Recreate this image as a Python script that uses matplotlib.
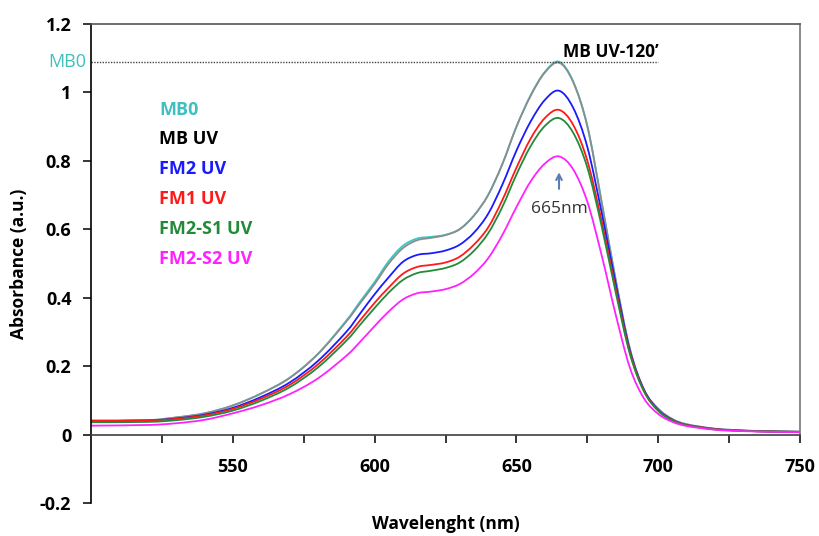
import matplotlib
matplotlib.use("Agg")
import matplotlib.pyplot as plt
from matplotlib.path import Path
from matplotlib.patches import PathPatch
from matplotlib.ticker import FixedLocator

plt.rcParams['font.family'] = ['Open Sans', 'DejaVu Sans']

# wavelength grid (nm)
wl = [500, 520, 530, 540, 550, 560, 570, 580, 590, 595, 600, 605, 610, 615, 620,
      625, 630, 635, 640, 645, 650, 655, 660, 665, 670, 675, 680, 685, 690, 695,
      700, 705, 710, 720, 730, 740, 750]

# absorbance
mb0 = [0.040, 0.042, 0.050, 0.062, 0.085, 0.120, 0.166, 0.236, 0.333, 0.390, 0.446, 0.507, 0.552, 0.573, 0.578,
       0.584, 0.601, 0.640, 0.700, 0.790, 0.900, 0.992, 1.060, 1.090, 1.032, 0.902, 0.682, 0.452, 0.250, 0.130,
       0.075, 0.045, 0.030, 0.017, 0.012, 0.009, 0.008]
mb_uv = [0.040, 0.042, 0.050, 0.062, 0.085, 0.120, 0.165, 0.235, 0.330, 0.385, 0.440, 0.500, 0.545, 0.568, 0.575,
         0.583, 0.600, 0.640, 0.700, 0.790, 0.900, 0.990, 1.058, 1.087, 1.030, 0.900, 0.680, 0.450, 0.250, 0.130,
         0.075, 0.045, 0.030, 0.017, 0.012, 0.009, 0.008]
fm2_uv = [0.040, 0.041, 0.047, 0.058, 0.078, 0.110, 0.152, 0.215, 0.300, 0.355, 0.410, 0.460, 0.505, 0.525, 0.530,
          0.538, 0.555, 0.590, 0.645, 0.730, 0.830, 0.915, 0.978, 1.005, 0.955, 0.840, 0.650, 0.440, 0.245, 0.130,
          0.072, 0.043, 0.028, 0.016, 0.011, 0.009, 0.008]
fm1_uv = [0.041, 0.041, 0.046, 0.056, 0.075, 0.105, 0.145, 0.205, 0.285, 0.335, 0.385, 0.430, 0.470, 0.490, 0.496,
          0.503, 0.520, 0.555, 0.605, 0.685, 0.780, 0.865, 0.925, 0.949, 0.905, 0.800, 0.625, 0.425, 0.240, 0.127,
          0.070, 0.042, 0.028, 0.016, 0.011, 0.009, 0.008]
fm2_s1 = [0.036, 0.037, 0.042, 0.052, 0.070, 0.099, 0.138, 0.196, 0.274, 0.322, 0.370, 0.415, 0.452, 0.472, 0.479,
          0.487, 0.503, 0.537, 0.588, 0.665, 0.760, 0.843, 0.902, 0.925, 0.882, 0.780, 0.610, 0.415, 0.235, 0.125,
          0.069, 0.041, 0.027, 0.015, 0.011, 0.009, 0.008]
fm2_s2 = [0.026, 0.028, 0.033, 0.043, 0.062, 0.086, 0.118, 0.164, 0.230, 0.272, 0.317, 0.360, 0.395, 0.413, 0.418,
          0.425, 0.440, 0.470, 0.515, 0.583, 0.665, 0.740, 0.792, 0.813, 0.775, 0.680, 0.525, 0.350, 0.195, 0.105,
          0.060, 0.037, 0.025, 0.014, 0.010, 0.008, 0.007]

names = ['MB0', 'MB UV', 'FM2 UV', 'FM1 UV', 'FM2-S1 UV', 'FM2-S2 UV']
line_colors = ['#33CCCC', '#8C8C8C', '#1A1AFF', '#FF1A1A', '#228B3A', '#FF22FF']
text_colors = ['#40BFBF', '#000000', '#1A1AFF', '#FF1A1A', '#228B3A', '#FF22FF']
series = [mb0, mb_uv, fm2_uv, fm1_uv, fm2_s1, fm2_s2]


def smooth_path(xs, ys):
    # excel style smoothed line: catmull-rom segments as cubic beziers
    pts = list(zip(xs, ys))
    verts = [pts[0]]
    codes = [Path.MOVETO]
    n = len(pts)
    for i in range(n - 1):
        p0 = pts[max(i - 1, 0)]
        p1 = pts[i]
        p2 = pts[i + 1]
        p3 = pts[min(i + 2, n - 1)]
        c1 = (p1[0] + (p2[0] - p0[0]) / 6, p1[1] + (p2[1] - p0[1]) / 6)
        c2 = (p2[0] - (p3[0] - p1[0]) / 6, p2[1] - (p3[1] - p1[1]) / 6)
        verts += [c1, c2, p2]
        codes += [Path.CURVE4] * 3
    return Path(verts, codes)


fig = plt.figure(figsize=(8.19, 5.36), dpi=100)
ax = fig.add_axes([0.111, 0.0616, 0.866, 0.8936])

for y, c in zip(series, line_colors):
    ax.add_patch(PathPatch(smooth_path(wl, y), fill=False, edgecolor=c, lw=1.3))

ax.set_xlim(500, 750)
ax.set_ylim(-0.2, 1.2)

# excel-like frame
ax.spines['bottom'].set_position(('data', 0))
ax.spines['bottom'].set_color('#404040')
ax.spines['left'].set_color('black')
ax.spines['top'].set_color('#555555')
ax.spines['right'].set_color('#777777')
ax.spines['right'].set_bounds(0, 1.2)
for s in ax.spines.values():
    s.set_linewidth(1.2)

xt = [525, 550, 575, 600, 625, 650, 675, 700, 725, 750]
ax.xaxis.set_major_locator(FixedLocator(xt))
ax.set_xticklabels([str(v) if v % 50 == 0 else '' for v in xt])
yt = [-0.2, 0, 0.2, 0.4, 0.6, 0.8, 1.0, 1.2]
ax.set_yticks(yt)
ax.set_yticklabels(['-0.2', '0', '0.2', '0.4', '0.6', '0.8', '1', '1.2'])
ax.tick_params(axis='x', direction='out', length=6, width=1.1, pad=11, labelsize=13)
ax.tick_params(axis='y', direction='out', length=6, width=1.1, pad=8, labelsize=13)
for lab in ax.get_xticklabels() + ax.get_yticklabels():
    lab.set_fontweight('bold')

ax.set_xlabel('Wavelenght (nm)', fontsize=12.5, fontweight='bold')
ax.xaxis.set_label_coords(0.50, -0.025)
ax.set_ylabel('Absorbance (a.u.)', fontsize=12.5, fontweight='bold')
ax.yaxis.set_label_coords(-0.088, 0.5)

# colored labels acting as legend
leg_y = [0.949, 0.864, 0.777, 0.689, 0.601, 0.513]
for n, tc, yy in zip(names, text_colors, leg_y):
    ax.text(524, yy, n, color=tc, fontsize=13, fontweight='bold', va='center', ha='left')

# MB0 reference level
ax.plot([500, 700], [1.09, 1.09], color='#444444', lw=1, ls=(0, (1, 1)))
ax.text(498.5, 1.09, 'MB0', color='#40BFBF', fontsize=13, ha='right', va='center',
        clip_on=False)
ax.text(700, 1.093, 'MB UV-120\u2019', color='black', fontsize=12.5, fontweight='bold',
        ha='right', va='bottom')

# peak marker
ax.annotate('', xy=(665, 0.775), xytext=(665, 0.71),
            arrowprops=dict(arrowstyle='->', color='#5B7FB5', lw=1.5))
ax.text(665, 0.66, '665nm', color='#333333', fontsize=12.5, ha='center', va='center')

fig.savefig('out.png', dpi=100)
